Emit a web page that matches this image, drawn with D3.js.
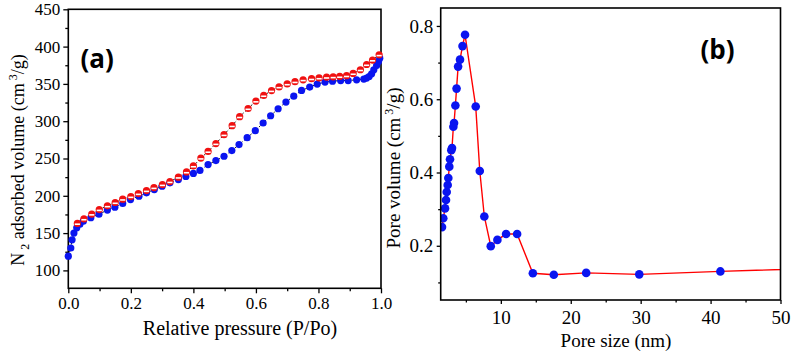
<!DOCTYPE html>
<html>
<head>
<meta charset="utf-8">
<script src="https://cdn.jsdelivr.net/npm/d3@7"></script>
<style>
  body { margin: 0; background: #fff; }
</style>
</head>
<body>
<div id="chart"></div>
<script>
// ---- panel (a): N2 isotherm ----
var adsP = [0.0, 0.008, 0.012, 0.018, 0.027, 0.037, 0.048, 0.072, 0.098, 0.125, 0.149, 0.174, 0.199, 0.226, 0.25, 0.275, 0.3, 0.325, 0.352, 0.376, 0.4, 0.421, 0.447, 0.472, 0.498, 0.523, 0.546, 0.572, 0.598, 0.623, 0.647, 0.671, 0.696, 0.721, 0.746, 0.772, 0.796, 0.821, 0.845, 0.871, 0.895, 0.922, 0.945, 0.954, 0.962, 0.97, 0.977, 0.986, 0.992, 0.996]
var adsV = [119, 130, 141, 150, 157, 162, 166, 170.6, 175.4, 180.8, 184.8, 189.7, 195, 199.5, 204, 208.4, 212.8, 217.4, 221.8, 226, 230, 234, 241.8, 247.2, 253, 260.6, 268.6, 277.9, 287.3, 297.6, 307.3, 316.7, 325.7, 333.6, 341.2, 345.7, 349.7, 352.4, 353.7, 354.5, 354.5, 355.5, 356.4, 357.8, 359.9, 363.5, 368.9, 374.6, 380, 384.5]

var desP = [0.994, 0.973, 0.954, 0.934, 0.911, 0.89, 0.868, 0.847, 0.826, 0.802, 0.778, 0.751, 0.725, 0.7, 0.674, 0.65, 0.625, 0.6, 0.575, 0.548, 0.524, 0.498, 0.472, 0.447, 0.424, 0.4, 0.378, 0.352, 0.325, 0.301, 0.274, 0.25, 0.224, 0.2, 0.174, 0.15, 0.125, 0.099, 0.075, 0.05, 0.029]
var desV = [389, 382, 376, 369, 364, 361, 360, 359.5, 359, 358, 357, 355.5, 353, 350, 346, 341, 334.5, 327, 317, 306, 294, 282, 270, 259.5, 250.5, 240, 232, 225, 219, 215, 211, 207, 203, 199, 195.5, 191, 186.5, 181.5, 175.5, 169, 163]

var aXTicks = [0, 0.2, 0.4, 0.6, 0.8, 1.0], aXMinor = [0.1, 0.3, 0.5, 0.7, 0.9]
var aYTicks = [100, 150, 200, 250, 300, 350, 400, 450], aYMinor = [125, 175, 225, 275, 325, 375, 425]

// ---- panel (b): pore size distribution ----
var poreSize = [1.59, 1.77, 2.02, 2.16, 2.26, 2.40, 2.49, 2.63, 2.73, 2.92, 3.02, 3.21, 3.31, 3.50, 3.67, 3.89, 4.16, 4.52, 4.88, 6.41, 6.99, 7.64, 8.56, 9.51, 10.75, 12.33, 14.58, 17.58, 22.21, 29.8, 41.4, 58]
var poreVol = [0.251, 0.275, 0.302, 0.325, 0.347, 0.366, 0.385, 0.416, 0.436, 0.461, 0.467, 0.525, 0.535, 0.583, 0.629, 0.689, 0.708, 0.745, 0.776, 0.580, 0.404, 0.280, 0.199, 0.216, 0.232, 0.232, 0.125, 0.121, 0.126, 0.122, 0.130, 0.140]

var bXTicks = [10, 20, 30, 40, 50], bXMinor = [5, 15, 25, 35, 45]
var bYTicks = [0.2, 0.4, 0.6, 0.8], bYMinor = [0.1, 0.3, 0.5, 0.7]

var width = 796, height = 354
var serif = "'Liberation Serif', 'DejaVu Serif', serif"

var svg = d3.select("#chart").append("svg")
    .attr("width", width)
    .attr("height", height)

// ================= panel (a) =================
var xA = d3.scaleLinear().domain([0, 1]).range([68.3, 381])
var yA = d3.scaleLinear().domain([76, 450]).range([288.3, 9.3])

var gA = svg.append("g")

function styleAxis(g, fs){
    g.attr("font-family", null)
    g.select(".domain").remove()
    g.selectAll("line").attr("stroke", "#000").attr("stroke-width", 1.3)
    g.selectAll("text")
        .style("font-family", serif)
        .style("font-size", fs + "px")
        .attr("fill", "#000")
}

gA.append("g")
    .attr("transform", "translate(0," + yA.range()[0] + ")")
    .call(d3.axisBottom(xA).tickValues(aXTicks).tickSize(5).tickPadding(4).tickFormat(d3.format(".1f")))
    .call(styleAxis, 17)
gA.append("g")
    .attr("transform", "translate(0," + yA.range()[0] + ")")
    .call(d3.axisBottom(xA).tickValues(aXMinor).tickSize(3).tickFormat(""))
    .call(styleAxis, 17)
gA.append("g")
    .attr("transform", "translate(" + xA.range()[0] + ",0)")
    .call(d3.axisLeft(yA).tickValues(aYTicks).tickSize(5).tickPadding(3).tickFormat(d3.format("d")))
    .call(styleAxis, 17)
gA.append("g")
    .attr("transform", "translate(" + xA.range()[0] + ",0)")
    .call(d3.axisLeft(yA).tickValues(aYMinor).tickSize(3).tickFormat(""))
    .call(styleAxis, 17)

gA.append("rect")
    .attr("x", xA.range()[0]).attr("y", yA.range()[1])
    .attr("width", xA.range()[1] - xA.range()[0])
    .attr("height", yA.range()[0] - yA.range()[1])
    .attr("fill", "none").attr("stroke", "#000").attr("stroke-width", 1.6)

var ads = adsP.map(function(p, i){ return {x: p, y: adsV[i]} })
var des = desP.map(function(p, i){ return {x: p, y: desV[i]} })

var lineA = d3.line().x(function(d){ return xA(d.x) }).y(function(d){ return yA(d.y) })

gA.append("path").datum(ads)
    .attr("d", lineA).attr("fill", "none")
    .attr("stroke", "#000").attr("stroke-width", 0.9).attr("stroke-dasharray", "2,2")
gA.append("path").datum(des)
    .attr("d", lineA).attr("fill", "none")
    .attr("stroke", "#000").attr("stroke-width", 0.9).attr("stroke-dasharray", "2,2")

gA.selectAll(".ads").data(ads).enter().append("circle")
    .attr("class", "ads")
    .attr("cx", function(d){ return xA(d.x) })
    .attr("cy", function(d){ return yA(d.y) })
    .attr("r", 3.6)
    .attr("fill", "#0a14f0")

var desG = gA.selectAll(".des").data(des).enter().append("g")
    .attr("class", "des")
    .attr("transform", function(d){ return "translate(" + xA(d.x) + "," + yA(d.y) + ")" })
desG.append("circle").attr("r", 3.6).attr("fill", "#f01010")
desG.append("rect").attr("x", -2.6).attr("y", 0).attr("width", 5.2).attr("height", 1.6).attr("fill", "#fff")

gA.append("text")
    .attr("x", 80.5).attr("y", 68)
    .style("font-family", "'Open Sans', sans-serif")
    .style("font-weight", "bold")
    .style("font-size", "26px")
    .text("(a)")

gA.append("text")
    .attr("x", 240).attr("y", 335)
    .attr("text-anchor", "middle")
    .style("font-family", serif)
    .style("font-size", "20px")
    .text("Relative pressure (P/Po)")

var yLabA = gA.append("text")
    .attr("transform", "translate(23.5,160) rotate(-90)")
    .attr("text-anchor", "middle")
    .style("font-family", serif)
    .style("font-size", "18px")
yLabA.append("tspan").text("N")
yLabA.append("tspan").attr("dy", 5).style("font-size", "12px").text(" 2")
yLabA.append("tspan").attr("dy", -5).text(" adsorbed volume (cm")
yLabA.append("tspan").attr("dy", -7).style("font-size", "12px").text(" 3")
yLabA.append("tspan").attr("dy", 7).text("/g)")

// ================= panel (b) =================
var xB = d3.scaleLinear().domain([1.4, 50]).range([440.7, 780.5])
var yB = d3.scaleLinear().domain([0.052, 0.849]).range([300, 8])

var gB = svg.append("g")

gB.append("g")
    .attr("transform", "translate(0," + yB.range()[0] + ")")
    .call(d3.axisBottom(xB).tickValues(bXTicks).tickSize(4).tickPadding(7).tickFormat(d3.format("d")))
    .call(styleAxis, 19)
gB.append("g")
    .attr("transform", "translate(0," + yB.range()[0] + ")")
    .call(d3.axisBottom(xB).tickValues(bXMinor).tickSize(2.5).tickFormat(""))
    .call(styleAxis, 19)
gB.append("g")
    .attr("transform", "translate(" + xB.range()[0] + ",0)")
    .call(d3.axisLeft(yB).tickValues(bYTicks).tickSize(4).tickPadding(3.5).tickFormat(d3.format(".1f")))
    .call(styleAxis, 19)
gB.append("g")
    .attr("transform", "translate(" + xB.range()[0] + ",0)")
    .call(d3.axisLeft(yB).tickValues(bYMinor).tickSize(2.5).tickFormat(""))
    .call(styleAxis, 19)

svg.append("clipPath").attr("id", "clipB")
    .append("rect")
    .attr("x", xB.range()[0]).attr("y", yB.range()[1])
    .attr("width", xB.range()[1] - xB.range()[0])
    .attr("height", yB.range()[0] - yB.range()[1])

var psd = poreSize.map(function(s, i){ return {x: s, y: poreVol[i]} })
var lineB = d3.line().x(function(d){ return xB(d.x) }).y(function(d){ return yB(d.y) })

var plotB = gB.append("g").attr("clip-path", "url(#clipB)")
plotB.append("path").datum(psd)
    .attr("d", lineB).attr("fill", "none")
    .attr("stroke", "#ff0000").attr("stroke-width", 1.4)
plotB.selectAll(".psd").data(psd.filter(function(d){ return d.x <= 50 })).enter().append("circle")
    .attr("class", "psd")
    .attr("cx", function(d){ return xB(d.x) })
    .attr("cy", function(d){ return yB(d.y) })
    .attr("r", 4.3)
    .attr("fill", "#0a14f0")

gB.append("rect")
    .attr("x", xB.range()[0]).attr("y", yB.range()[1])
    .attr("width", xB.range()[1] - xB.range()[0])
    .attr("height", yB.range()[0] - yB.range()[1])
    .attr("fill", "none").attr("stroke", "#000").attr("stroke-width", 1.6)

gB.append("text")
    .attr("x", 700.5).attr("y", 59)
    .style("font-family", "'Open Sans', sans-serif")
    .style("font-weight", "bold")
    .style("font-size", "26px")
    .text("(b)")

gB.append("text")
    .attr("x", 616).attr("y", 346.5)
    .attr("text-anchor", "middle")
    .style("font-family", serif)
    .style("font-size", "19px")
    .text("Pore size (nm)")

var yLabB = gB.append("text")
    .attr("transform", "translate(400,168) rotate(-90)")
    .attr("text-anchor", "middle")
    .style("font-family", serif)
    .style("font-size", "19px")
yLabB.append("tspan").text("Pore volume (cm")
yLabB.append("tspan").attr("dy", -7).style("font-size", "12px").text(" 3")
yLabB.append("tspan").attr("dy", 7).text("/g)")
</script>
</body>
</html>
